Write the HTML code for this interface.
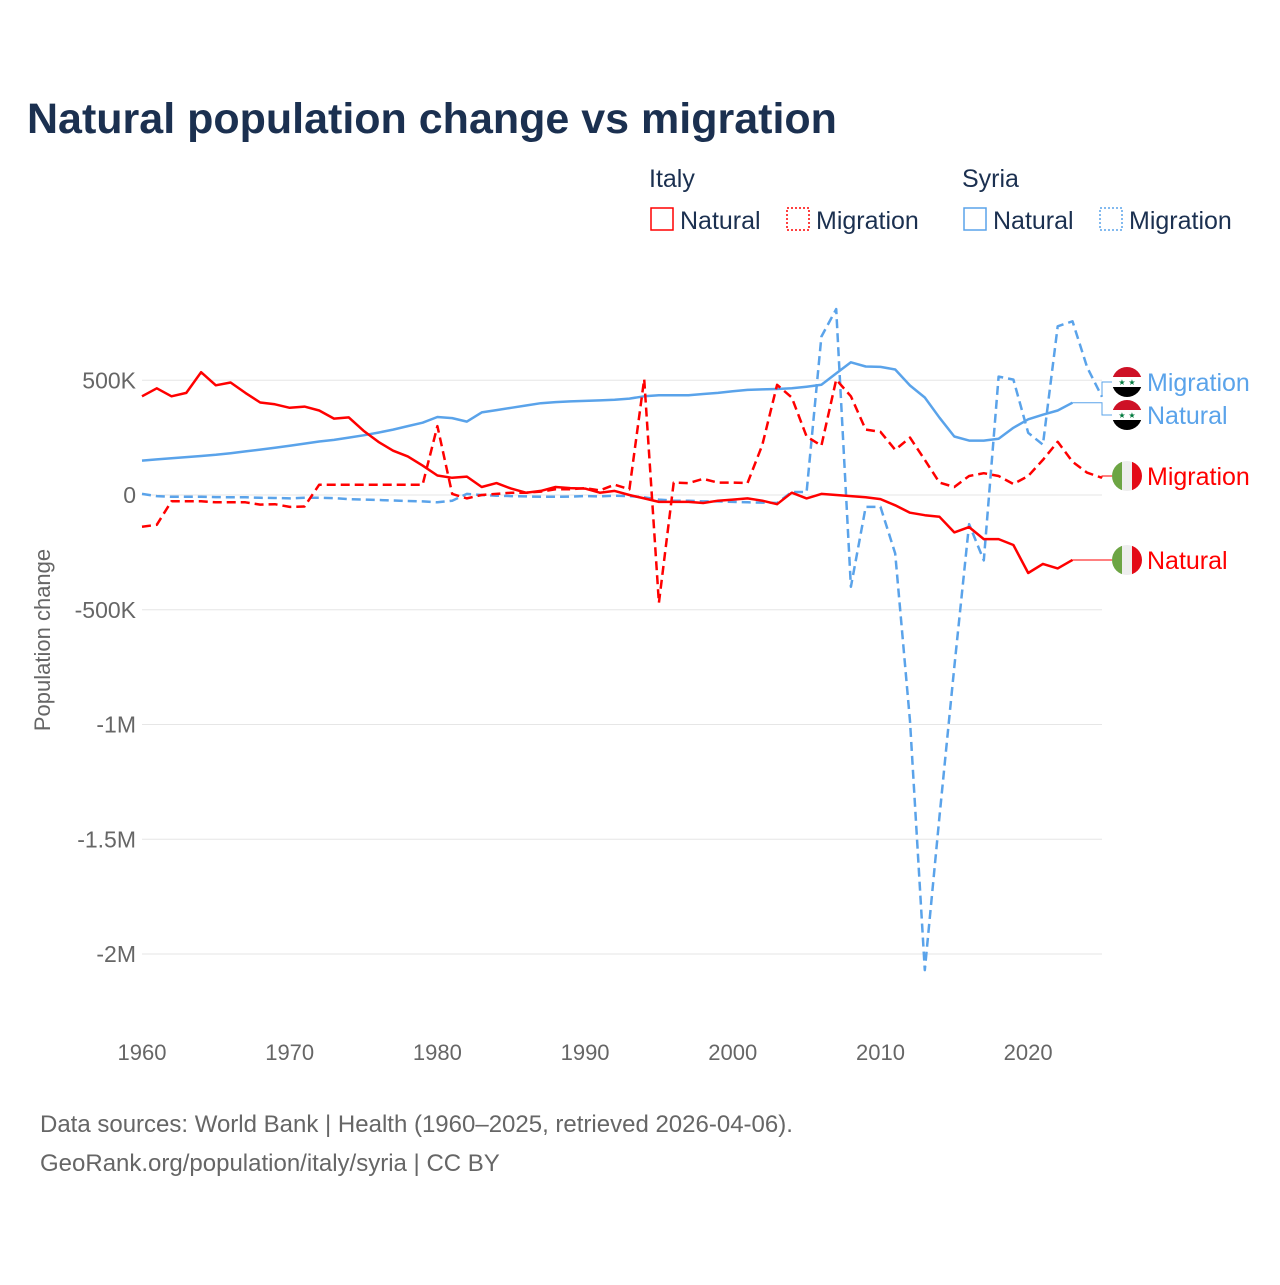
<!DOCTYPE html>
<html><head><meta charset="utf-8"><style>
body{margin:0;background:#fff;font-family:"Liberation Sans",sans-serif}
svg text{font-family:"Liberation Sans",sans-serif}
</style></head><body>
<svg width="1280" height="1280" viewBox="0 0 1280 1280" xmlns="http://www.w3.org/2000/svg">
<rect width="1280" height="1280" fill="#fff"/>
<text x="27" y="133" font-size="43" font-weight="bold" fill="#1b3050">Natural population change vs migration</text>
<g font-size="25" fill="#1b3050">
<text x="649" y="187">Italy</text>
<text x="962" y="187">Syria</text>
<g><rect x="651" y="208" width="22" height="22" fill="none" stroke="#f00" stroke-width="1.5"/><text x="680" y="229">Natural</text></g>
<g><rect x="787" y="208" width="22" height="22" fill="none" stroke="#f00" stroke-width="1.5" stroke-dasharray="2,2"/><text x="816" y="229">Migration</text></g>
<g><rect x="964" y="208" width="22" height="22" fill="none" stroke="#5aa3ea" stroke-width="1.5"/><text x="993" y="229">Natural</text></g>
<g><rect x="1100" y="208" width="22" height="22" fill="none" stroke="#5aa3ea" stroke-width="1.5" stroke-dasharray="2,2"/><text x="1129" y="229">Migration</text></g>
</g>
<g id="grid"></g>
<g id="yt" font-size="23" fill="#666" text-anchor="end"></g>
<g id="xt" font-size="22" fill="#666" text-anchor="middle"></g>
<text transform="translate(50,640) rotate(-90)" text-anchor="middle" font-size="22" fill="#666">Population change</text>
<g id="series"></g>
<g id="labels"></g>
<text x="40" y="1132" font-size="24" fill="#666">Data sources: World Bank | Health (1960–2025, retrieved 2026-04-06).</text>
<text x="40" y="1171" font-size="24" fill="#666">GeoRank.org/population/italy/syria | CC BY</text>
</svg>
<script>
const years=[];for(let y=1960;y<=2025;y++)years.push(y);
const yTicks=[500,0,-500,-1000,-1500,-2000];
const yTickLabels=["500K","0","-500K","-1M","-1.5M","-2M"];
const xTicks=[1960,1970,1980,1990,2000,2010,2020];
const italyNatural=[430,465,430,445,535,478,490,445,403,395,380,385,368,333,338,280,232,193,168,128,85,75,80,35,52,28,10,18,35,30,28,10,18,0,-15,-30,-30,-30,-35,-25,-20,-15,-25,-40,10,-15,5,0,-5,-10,-18,-45,-77,-88,-95,-163,-140,-192,-192,-218,-340,-300,-320,-283];
const italyMigration=[-138,-130,-27,-27,-27,-32,-32,-32,-42,-40,-52,-50,45,45,45,45,45,45,45,45,300,5,-15,0,5,10,10,15,25,25,30,20,45,25,505,-470,54,52,70,54,54,52,218,480,425,255,215,503,430,285,275,197,250,153,54,35,83,95,83,48,83,153,232,145,97,75];
const syriaNatural=[150,155,160,165,170,175,182,190,198,206,215,224,233,240,250,260,272,285,300,315,340,335,320,360,370,380,390,400,405,408,410,412,415,420,430,435,435,435,440,445,452,458,460,462,465,472,480,530,578,560,558,547,477,425,337,255,237,237,245,293,330,350,368,402];
const syriaMigration=[5,-5,-8,-8,-8,-9,-10,-10,-12,-13,-15,-12,-12,-14,-18,-20,-22,-24,-26,-28,-32,-25,5,0,-3,-5,-6,-8,-8,-7,-5,-6,-3,-5,-10,-20,-25,-25,-28,-28,-30,-32,-33,-35,13,13,690,810,-400,-52,-52,-255,-985,-2070,-1400,-750,-127,-285,516,503,271,219,735,757,556,428];
const X=y=>142+(y-1960)*(960/65);
const Y=v=>495-v*0.2295;
const NS="http://www.w3.org/2000/svg";
function mk(t,a,p){const e=document.createElementNS(NS,t);for(const k in a)e.setAttribute(k,a[k]);p.appendChild(e);return e;}
const grid=document.getElementById('grid'),yt=document.getElementById('yt'),xt=document.getElementById('xt');
yTicks.forEach((v,i)=>{
 const l=mk('line',{x1:142,x2:1102,y1:Y(v),y2:Y(v),stroke:'#e6e6e6','stroke-width':1},grid);
 
 
 const t=mk('text',{x:136,y:Y(v)+8},yt);t.textContent=yTickLabels[i];
 
 
});
xTicks.forEach(y=>{const t=mk('text',{x:X(y),y:1060},xt);t.textContent=y;
 
 });
const S=document.getElementById('series');
function line(data,color,dash,name){
 const d=data.map((v,i)=>(i?'L':'M')+X(years[i]).toFixed(1)+','+Y(v).toFixed(1)).join('');
 const p=mk('path',{d:d,fill:'none',stroke:color,'stroke-width':2.5,'stroke-linejoin':'round'},S);
 if(dash)p.setAttribute('stroke-dasharray','9,5');
 
 
 return data.length-1;
}
line(syriaMigration,'#5aa3ea',true,'line-syria-migration');
line(syriaNatural,'#5aa3ea',false,'line-syria-natural');
line(italyMigration,'#f00',true,'line-italy-migration');
line(italyNatural,'#f00',false,'line-italy-natural');
const L=document.getElementById('labels');
function endLabel(data,color,ly,text,flag,name){
 const i=data.length-1,x=X(years[i]),y=Y(data[i]);
 const c=mk('path',{d:`M${x},${y}H1102V${ly}H1112`,fill:'none',stroke:color,'stroke-width':1},L);
 
 
 const g=mk('g',{},L);
 
 
 const cx=1127;
 const cp='cp'+name;
 const clip=mk('clipPath',{id:cp},g);mk('circle',{cx:cx,cy:ly,r:15},clip);
 const gg=mk('g',{'clip-path':`url(#${cp})`},g);
 if(flag==='sy'){mk('rect',{x:cx-15,y:ly-15,width:30,height:10,fill:'#ce1126'},gg);mk('rect',{x:cx-15,y:ly-5,width:30,height:10,fill:'#fff'},gg);mk('rect',{x:cx-15,y:ly+5,width:30,height:10,fill:'#000'},gg);
  const s1=mk('text',{x:cx-5,y:ly+3,'font-size':8,fill:'#007a3d','text-anchor':'middle'},gg);s1.textContent='★';
  const s2=mk('text',{x:cx+5,y:ly+3,'font-size':8,fill:'#007a3d','text-anchor':'middle'},gg);s2.textContent='★';}
 else{mk('rect',{x:cx-15,y:ly-15,width:10,height:30,fill:'#6da544'},gg);mk('rect',{x:cx-5,y:ly-15,width:10,height:30,fill:'#eee'},gg);mk('rect',{x:cx+5,y:ly-15,width:10,height:30,fill:'#e30a17'},gg);}
 const t=mk('text',{x:1147,y:ly+9,'font-size':25,fill:color},L);t.textContent=text;
 
 
}
endLabel(syriaMigration,'#5aa3ea',382,'Migration','sy','syria-migration');
endLabel(syriaNatural,'#5aa3ea',415,'Natural','sy','syria-natural');
endLabel(italyMigration,'#f00',476,'Migration','it','italy-migration');
endLabel(italyNatural,'#f00',560,'Natural','it','italy-natural');
</script>
</body></html>
